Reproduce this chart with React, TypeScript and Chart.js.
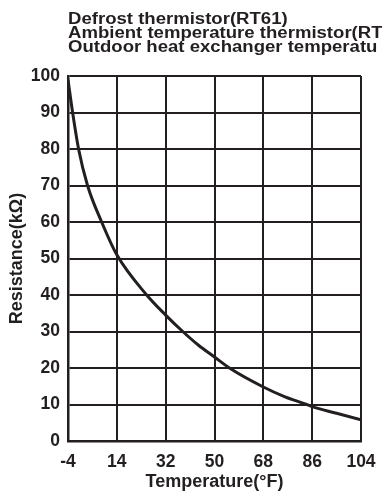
import React, { useEffect, useRef } from "react";
import { Chart, registerables } from "chart.js";

Chart.register(...registerables);

const TITLE_LINES = [
  "Defrost thermistor(RT61)",
  "Ambient temperature thermistor(RT",
  "Outdoor heat exchanger temperatu",
];
const X_TITLE = "Temperature(°F)";
const Y_TITLE = "Resistance(kΩ)";

const X_MIN = -4;
const X_MAX = 104;
const X_STEP = 18;
const Y_MIN = 0;
const Y_MAX = 100;
const Y_STEP = 10;

const TEMP_F = [-4, -2.3, -0.1, 3.2, 8.4, 14, 25, 32, 38.3, 44, 50, 55.5, 68, 76, 84, 86, 95, 104];
const RESISTANCE = [99, 90, 80, 70, 60, 51, 40, 34.5, 30, 26.3, 23, 20, 14.8, 12.1, 10, 9.4, 7.6, 5.8];

const INK = "#231f20";
const FONT = '"Liberation Sans", Arial, Helvetica, sans-serif';

export default function App() {
  const ref = useRef<HTMLCanvasElement | null>(null);

  useEffect(() => {
    document.body.style.margin = "0";
    const canvas = ref.current;
    if (!canvas) return;

    const titlePlugin = {
      id: "multiTitle",
      afterDraw(chart: any) {
        const ctx = chart.ctx;
        const stretch = 1.16;
        ctx.save();
        ctx.fillStyle = INK;
        ctx.font = `bold 16px ${FONT}`;
        ctx.textAlign = "left";
        ctx.textBaseline = "alphabetic";
        ctx.translate(chart.chartArea.left, 0);
        ctx.scale(stretch, 1);
        TITLE_LINES.forEach((line, i) => {
          ctx.fillText(line, 0, 24 + i * 14);
        });
        ctx.restore();
      },
    };

    const chart = new Chart(canvas, {
      type: "line",
      data: {
        datasets: [
          {
            data: TEMP_F.map((t, i) => ({ x: t, y: RESISTANCE[i] })),
            borderColor: INK,
            borderWidth: 3,
            pointRadius: 0,
            fill: false,
            cubicInterpolationMode: "monotone",
          },
        ],
      },
      options: {
        animation: false,
        responsive: false,
        maintainAspectRatio: false,
        layout: { padding: { top: 76, right: 21, bottom: 0, left: 0 } },
        plugins: {
          legend: { display: false },
          tooltip: { enabled: false },
          title: { display: false },
        },
        scales: {
          x: {
            type: "linear",
            min: X_MIN,
            max: X_MAX,
            ticks: {
              stepSize: X_STEP,
              color: INK,
              padding: 11,
              font: { family: FONT, size: 17.5, weight: "bold" },
            },
            grid: { color: INK, lineWidth: 2, drawTicks: false },
            border: { color: INK, width: 2.5 },
            title: {
              display: true,
              text: X_TITLE,
              color: INK,
              font: { family: FONT, size: 18, weight: "bold" },
              padding: { top: 0, bottom: 6 },
            },
            afterFit(scale: any) {
              scale.height = 58;
              scale.paddingRight = 0;
              scale.paddingLeft = 0;
            },
          },
          y: {
            type: "linear",
            min: Y_MIN,
            max: Y_MAX,
            ticks: {
              stepSize: Y_STEP,
              color: INK,
              padding: 8,
              font: { family: FONT, size: 17.5, weight: "bold" },
            },
            grid: { color: INK, lineWidth: 2, drawTicks: false },
            border: { color: INK, width: 2.5 },
            title: {
              display: true,
              text: Y_TITLE,
              color: INK,
              font: { family: FONT, size: 18, weight: "bold" },
              padding: { top: 6, bottom: 0 },
            },
            afterFit(scale: any) {
              scale.width = 68;
              scale.paddingTop = 0;
              scale.paddingBottom = 0;
            },
          },
        },
      },
      plugins: [titlePlugin],
    } as any);

    return () => chart.destroy();
  }, []);

  return (
    <div style={{ width: 382, height: 499 }}>
      <canvas ref={ref} width={382} height={499} style={{ display: "block" }} />
    </div>
  );
}
